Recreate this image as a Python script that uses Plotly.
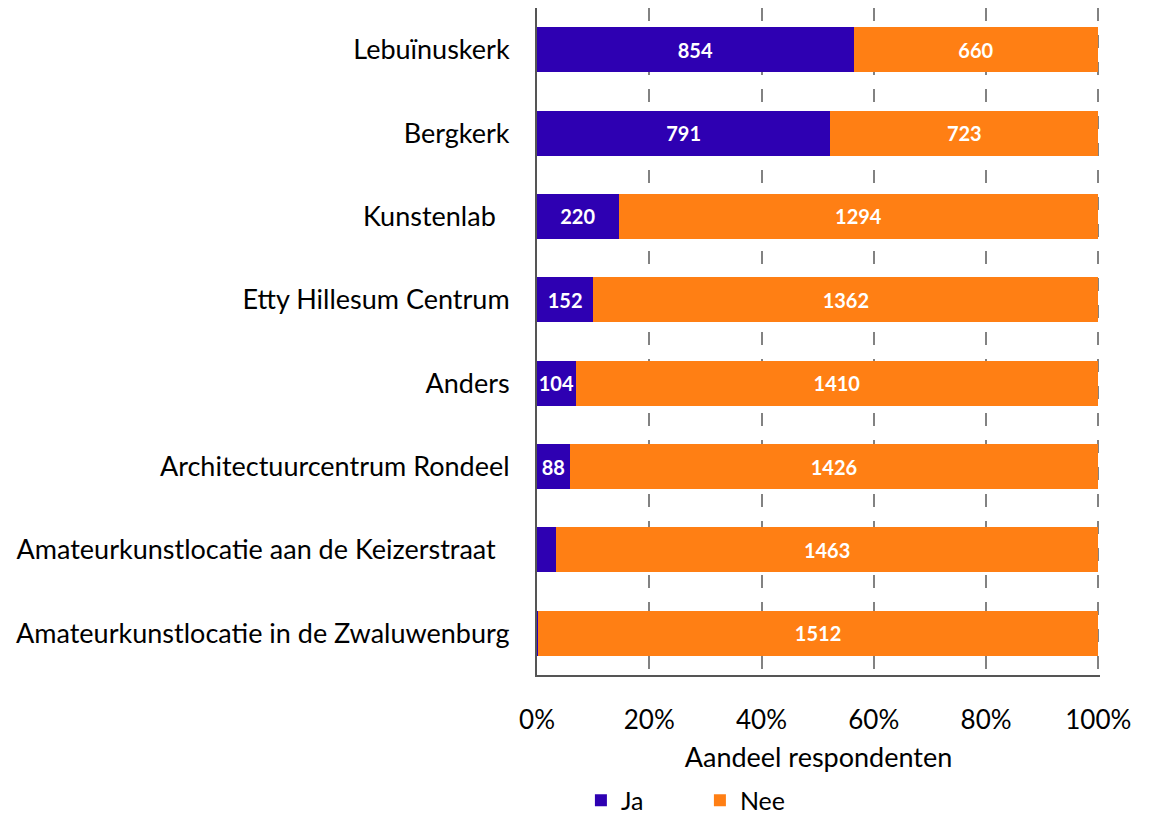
import plotly.graph_objects as go

categories = [
    "Lebuïnuskerk",
    "Bergkerk",
    "Kunstenlab\u00a0\u00a0",
    "Etty Hillesum Centrum",
    "Anders",
    "Architectuurcentrum Rondeel",
    "Amateurkunstlocatie aan de Keizerstraat\u00a0\u00a0",
    "Amateurkunstlocatie in de Zwaluwenburg",
]
ja = [854, 791, 220, 152, 104, 88, 51, 2]
nee = [660, 723, 1294, 1362, 1410, 1426, 1463, 1512]
xticks = [0, 20, 40, 60, 80, 100]

totals = [a + b for a, b in zip(ja, nee)]
ja_pct = [a / t * 100 for a, t in zip(ja, totals)]
nee_pct = [b / t * 100 for b, t in zip(nee, totals)]
ja_text = [str(v) if v >= 80 else "" for v in ja]
nee_text = [str(v) for v in nee]

FONT = "Lato, 'Open Sans', sans-serif"

fig = go.Figure()
fig.add_trace(go.Bar(
    y=categories, x=ja_pct, orientation="h", name="Ja",
    marker=dict(color="#2E00B2", line=dict(width=0)),
    text=ja_text, textposition="inside", insidetextanchor="middle",
    textangle=0, constraintext="none",
    textfont=dict(color="white", size=20, family=FONT, weight="bold"),
    hoverinfo="skip",
))
fig.add_trace(go.Bar(
    y=categories, x=nee_pct, orientation="h", name="Nee",
    marker=dict(color="#FF7F14", line=dict(width=0)),
    text=nee_text, textposition="inside", insidetextanchor="middle",
    textangle=0, constraintext="none",
    textfont=dict(color="white", size=20, family=FONT, weight="bold"),
    hoverinfo="skip",
))

fig.update_layout(
    barmode="stack",
    bargap=0.46,
    width=1160, height=817,
    margin=dict(l=529, r=68, t=0, b=150, autoexpand=False),
    plot_bgcolor="white", paper_bgcolor="white",
    font=dict(family=FONT, size=27, color="black"),
    uniformtext=dict(mode="show", minsize=10),
    legend=dict(
        orientation="h", xref="paper", x=0.078, xanchor="left",
        yref="container", y=0.03, yanchor="middle",
        font=dict(size=25), itemwidth=30, traceorder="normal",
        entrywidth=74,
    ),
    xaxis=dict(
        range=[0, 100.3], tickvals=xticks,
        ticktext=[f"{v}%" for v in xticks],
        showgrid=True, gridcolor="#828282", gridwidth=2, griddash="13px,14px",
        showline=True, linecolor="#555555", linewidth=2,
        zeroline=False, ticks="", ticklabelstandoff=21,
        title=dict(text="Aandeel respondenten", standoff=14, font=dict(size=27)),
        fixedrange=True, tickfont=dict(size=26),
    ),
    yaxis=dict(
        autorange="reversed", showline=True, linecolor="#555555", linewidth=2,
        showgrid=False, ticks="", ticklabelstandoff=20,
        fixedrange=True,
    ),
)

fig.write_html("out.html")
